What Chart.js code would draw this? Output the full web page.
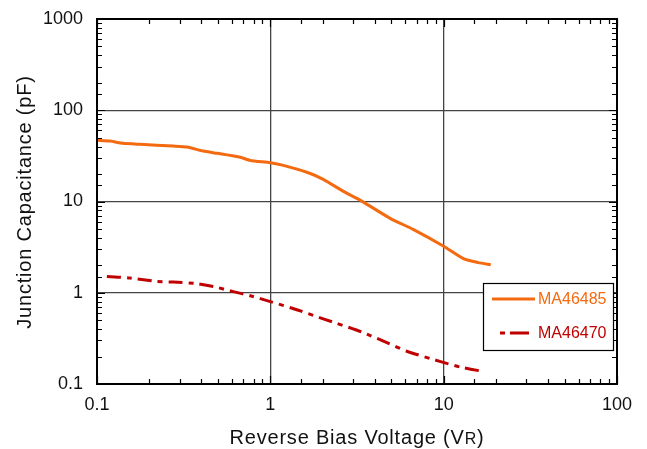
<!DOCTYPE html>
<html>
<head>
<meta charset="utf-8">
<script src="https://cdn.jsdelivr.net/npm/chart.js@4/dist/chart.umd.min.js"></script>
<style>
  html, body { margin: 0; padding: 0; background: #fff; }
  #wrap { width: 647px; height: 449px; }
</style>
</head>
<body>
<div id="wrap"><canvas id="c" width="647" height="449"></canvas></div>
<script>
// values
const vr485 = [0.1, 0.119, 0.141, 0.177, 0.275, 0.331, 0.41, 0.494, 0.671, 0.766, 1.0, 1.19, 1.64, 2.02, 2.64, 3.31, 4.94, 6.71, 10, 13.0, 15.8, 18.7];
const c485 = [46.8, 46, 43.4, 42.3, 40.5, 39.5, 35.7, 33.7, 30.5, 28.2, 26.6, 24.9, 20.8, 17.5, 12.9, 10.3, 6.5, 4.92, 3.23, 2.36, 2.14, 2.03];
const vr470 = [0.114, 0.155, 0.222, 0.275, 0.378, 0.469, 0.611, 0.766, 1.0, 1.31, 1.49, 2.02, 3.31, 4.74, 6.19, 9.6, 12.5, 17.0];
const c470 = [1.51, 1.45, 1.33, 1.31, 1.26, 1.17, 1.03, 0.927, 0.80, 0.684, 0.634, 0.518, 0.376, 0.282, 0.227, 0.176, 0.153, 0.137];
const seriesNames = ["MA46485", "MA46470"];
const xTickLabels = ["0.1", "1", "10", "100"];
const yTickLabels = ["0.1", "1", "10", "100", "1000"];
const yTitle = "Junction Capacitance (pF)";
const xTitle = ["Reverse Bias Voltage (V", "R", ")"];

const ORANGE = "#f46a10";
const RED = "#c00000";
const FONT = "'Liberation Sans', Arial, sans-serif";

function isMajor(v) {
  const l = Math.log10(v);
  return Math.abs(l - Math.round(l)) < 1e-6;
}
function majorLabel(v, list, lowExp) {
  if (!isMajor(v)) return "";
  return list[Math.round(Math.log10(v)) - lowExp] || "";
}

// inward tick marks on all four sides, frame, legend and axis titles
const framePlugin = {
  id: "frame",
  afterDatasetsDraw(chart) {
    const { ctx, chartArea: a, scales } = chart;
    ctx.save();
    ctx.strokeStyle = "#000";
    ctx.lineWidth = 1.2;
    scales.x.ticks.forEach(t => {
      const p = Math.round(scales.x.getPixelForValue(t.value)) + 0.5;
      const len = isMajor(t.value) ? 8 : 5;
      ctx.beginPath();
      ctx.moveTo(p, a.bottom); ctx.lineTo(p, a.bottom - len);
      ctx.moveTo(p, a.top); ctx.lineTo(p, a.top + len);
      ctx.stroke();
    });
    scales.y.ticks.forEach(t => {
      const p = Math.round(scales.y.getPixelForValue(t.value)) + 0.5;
      const len = isMajor(t.value) ? 8 : 5;
      ctx.beginPath();
      ctx.moveTo(a.left, p); ctx.lineTo(a.left + len, p);
      ctx.moveTo(a.right, p); ctx.lineTo(a.right - len, p);
      ctx.stroke();
    });
    ctx.lineWidth = 2;
    ctx.strokeRect(a.left, a.top, a.right - a.left, a.bottom - a.top);

    // legend box
    const bx = a.right - 134, by = a.bottom - 101, bw = 130, bh = 67;
    ctx.fillStyle = "#fff";
    ctx.fillRect(bx, by, bw, bh);
    ctx.lineWidth = 1.2;
    ctx.strokeRect(bx + 0.5, by + 0.5, bw, bh);
    ctx.lineWidth = 3;
    ctx.strokeStyle = ORANGE;
    ctx.beginPath();
    ctx.moveTo(bx + 9, by + 16); ctx.lineTo(bx + 52, by + 16);
    ctx.stroke();
    ctx.strokeStyle = RED;
    ctx.setLineDash([5, 5, 14, 0]);
    ctx.beginPath();
    ctx.moveTo(bx + 17, by + 50); ctx.lineTo(bx + 50, by + 50);
    ctx.stroke();
    ctx.setLineDash([]);
    ctx.font = "16px " + FONT;
    ctx.textBaseline = "middle";
    ctx.textAlign = "left";
    ctx.fillStyle = ORANGE;
    ctx.fillText(seriesNames[0], bx + 55, by + 17);
    ctx.fillStyle = RED;
    ctx.fillText(seriesNames[1], bx + 55, by + 51);

    // axis titles
    ctx.fillStyle = "#111";
    ctx.letterSpacing = "0.8px";
    ctx.textBaseline = "alphabetic";
    const big = "20px " + FONT, small = "16px " + FONT;
    ctx.font = big;
    const w1 = ctx.measureText(xTitle[0]).width, w3 = ctx.measureText(xTitle[2]).width;
    ctx.font = small;
    const w2 = ctx.measureText(xTitle[1]).width;
    const x0 = (a.left + a.right) / 2 - (w1 + w2 + w3) / 2;
    const y0 = 444;
    ctx.font = big;
    ctx.fillText(xTitle[0], x0, y0);
    ctx.font = small;
    ctx.fillText(xTitle[1], x0 + w1, y0);
    ctx.font = big;
    ctx.fillText(xTitle[2], x0 + w1 + w2, y0);

    ctx.translate(31, 202);
    ctx.rotate(-Math.PI / 2);
    ctx.textAlign = "center";
    ctx.font = big;
    ctx.fillText(yTitle, 0, 0);
    ctx.restore();
  }
};

const chart = new Chart(document.getElementById("c").getContext("2d"), {
  type: "line",
  data: {
    datasets: [
      {
        label: seriesNames[0],
        data: vr485.map((v, i) => ({ x: v, y: c485[i] })),
        borderColor: ORANGE,
        borderWidth: 3,
        pointRadius: 0,
        fill: false,
        tension: 0.2,
      },
      {
        label: seriesNames[1],
        data: vr470.map((v, i) => ({ x: v, y: c470[i] })),
        borderColor: RED,
        borderWidth: 3,
        borderDash: [14, 6, 5, 6],
        pointRadius: 0,
        fill: false,
        tension: 0.2,
      },
    ],
  },
  options: {
    responsive: false,
    animation: false,
    layout: { padding: { top: 19, right: 30, left: 0, bottom: 0 } },
    plugins: { legend: { display: false }, tooltip: { enabled: false } },
    scales: {
      x: {
        type: "logarithmic",
        min: 0.1,
        max: 100,
        afterFit: s => { s.height = 65; s.paddingLeft = 0; s.paddingRight = 0; },
        grid: {
          drawTicks: false,
          color: c => (c.tick && isMajor(c.tick.value) ? "#444" : "rgba(0,0,0,0)"),
          lineWidth: 1.3,
        },
        border: { display: false },
        ticks: {
          autoSkip: false,
          maxRotation: 0,
          padding: 10,
          color: "#111",
          font: { family: FONT, size: 18 },
          callback: v => majorLabel(v, xTickLabels, -1),
        },
      },
      y: {
        type: "logarithmic",
        min: 0.1,
        max: 1000,
        afterFit: s => { s.width = 97; s.paddingTop = 0; s.paddingBottom = 0; },
        grid: {
          drawTicks: false,
          color: c => (c.tick && isMajor(c.tick.value) ? "#444" : "rgba(0,0,0,0)"),
          lineWidth: 1.3,
        },
        border: { display: false },
        ticks: {
          autoSkip: false,
          padding: 14,
          color: "#111",
          font: { family: FONT, size: 18 },
          callback: v => majorLabel(v, yTickLabels, -1),
        },
      },
    },
  },
  plugins: [framePlugin],
});
</script>
</body>
</html>
